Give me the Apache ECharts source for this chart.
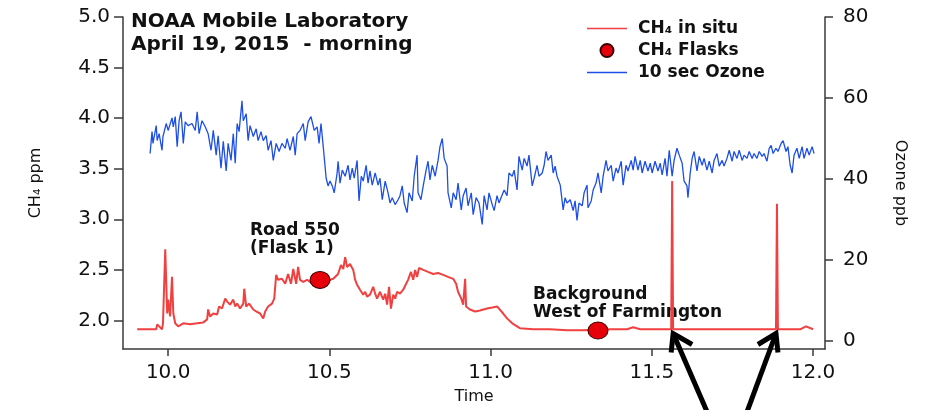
<!DOCTYPE html>
<html><head><meta charset="utf-8">
<script src="https://cdn.jsdelivr.net/npm/echarts@6/dist/echarts.min.js"></script>
<style>html,body{margin:0;padding:0;background:#fff}#c{width:927px;height:410px}</style>
</head><body><div id="c"></div>
<script>
// ---- data ----
const xTicks = [10.0, 10.5, 11.0, 11.5, 12.0];
const ch4Ticks = [2.0, 2.5, 3.0, 3.5, 4.0, 4.5, 5.0];
const ozoneTicks = [0, 20, 40, 60, 80];
const titleLines = ['NOAA Mobile Laboratory', 'April 19, 2015  - morning'];
const seriesNames = ['CH\u2084 in situ', 'CH\u2084 Flasks', '10 sec Ozone'];
const flaskLabels = ['Road 550\n(Flask 1)', 'Background\nWest of Farmington'];
const spikeTimes = [11.563, 11.888];

const ch4InSitu = [
[9.904,1.912],[9.944,1.912],[9.963,1.912],[9.966,1.961],[9.981,1.912],[9.984,1.971],[9.991,2.704],[9.997,2.068],
[10.000,2.205],[10.006,2.039],[10.012,2.430],[10.016,2.068],[10.022,1.971],[10.031,1.941],[10.047,1.971],[10.068,1.961],
[10.090,1.971],[10.109,1.980],[10.121,2.010],[10.124,2.108],[10.130,2.039],[10.140,2.068],[10.152,2.059],[10.158,2.137],
[10.167,2.117],[10.177,2.215],[10.183,2.186],[10.192,2.156],[10.202,2.205],[10.208,2.137],[10.214,2.166],[10.223,2.117],
[10.233,2.166],[10.236,2.313],[10.242,2.137],[10.251,2.166],[10.264,2.108],[10.273,2.088],[10.285,2.068],[10.295,2.020],
[10.301,2.088],[10.310,2.137],[10.322,2.166],[10.329,2.215],[10.335,2.450],[10.341,2.401],[10.353,2.411],[10.363,2.362],
[10.372,2.459],[10.381,2.362],[10.388,2.508],[10.397,2.362],[10.403,2.528],[10.409,2.401],[10.419,2.381],[10.431,2.401],
[10.447,2.362],[10.471,2.352],[10.493,2.362],[10.502,2.401],[10.512,2.411],[10.527,2.459],[10.536,2.547],[10.543,2.508],
[10.549,2.626],[10.555,2.528],[10.564,2.557],[10.574,2.499],[10.580,2.401],[10.586,2.352],[10.595,2.303],[10.605,2.254],
[10.611,2.283],[10.617,2.235],[10.626,2.254],[10.636,2.332],[10.642,2.264],[10.648,2.215],[10.657,2.283],[10.667,2.205],
[10.673,2.264],[10.679,2.156],[10.685,2.332],[10.691,2.117],[10.698,2.254],[10.704,2.215],[10.710,2.283],[10.719,2.264],
[10.729,2.303],[10.738,2.362],[10.744,2.401],[10.753,2.479],[10.760,2.401],[10.766,2.499],[10.772,2.430],[10.778,2.518],
[10.791,2.499],[10.806,2.479],[10.822,2.459],[10.837,2.469],[10.853,2.450],[10.868,2.430],[10.884,2.411],[10.893,2.362],
[10.899,2.283],[10.909,2.215],[10.915,2.156],[10.921,2.411],[10.924,2.137],[10.936,2.108],[10.952,2.088],[10.967,2.098],
[10.989,2.117],[11.005,2.127],[11.020,2.137],[11.026,2.117],[11.039,2.068],[11.051,2.020],[11.067,1.971],[11.082,1.941],
[11.091,1.922],[11.132,1.912],[11.184,1.912],[11.237,1.902],[11.287,1.902],[11.371,1.912],[11.423,1.912],[11.442,1.932],
[11.464,1.912],[11.504,1.912],[11.547,1.912],[11.560,1.912],[11.563,3.378],[11.566,1.912],[11.650,1.912],[11.774,1.912],
[11.885,1.912],[11.888,3.153],[11.891,1.912],[11.929,1.912],[11.960,1.912],[11.978,1.941],[12.000,1.912]
];

const ch4Flasks = [[10.471, 2.40], [11.333, 1.90]];

const ozone = [
[9.944,46.3],[9.950,51.7],[9.953,48.8],[9.963,53.2],[9.966,49.5],[9.972,51.2],[9.981,47.1],[9.984,50.5],[9.994,53.7],
[10.000,52.0],[10.012,55.1],[10.016,52.9],[10.022,55.4],[10.028,48.0],[10.034,54.4],[10.040,56.6],[10.047,48.8],[10.053,54.1],
[10.062,53.2],[10.074,53.7],[10.084,52.0],[10.090,56.6],[10.096,51.2],[10.105,54.4],[10.115,52.9],[10.124,51.2],[10.133,47.1],
[10.140,52.0],[10.149,45.9],[10.155,50.7],[10.164,42.7],[10.171,49.3],[10.180,42.0],[10.186,48.8],[10.195,44.6],[10.202,51.2],
[10.208,43.9],[10.214,53.7],[10.220,51.7],[10.229,59.3],[10.233,54.4],[10.242,56.1],[10.248,49.5],[10.254,53.2],[10.264,50.5],
[10.273,52.4],[10.279,49.5],[10.288,51.7],[10.295,49.5],[10.304,50.7],[10.310,47.1],[10.319,49.5],[10.326,44.6],[10.335,48.8],
[10.344,46.8],[10.353,48.8],[10.363,47.6],[10.369,50.0],[10.378,47.1],[10.388,50.5],[10.394,45.9],[10.400,51.2],[10.409,52.0],
[10.419,53.7],[10.425,49.5],[10.434,54.1],[10.443,55.4],[10.453,52.0],[10.462,52.9],[10.468,48.8],[10.474,53.7],[10.481,48.0],
[10.490,40.2],[10.496,38.3],[10.502,39.5],[10.509,38.3],[10.515,36.6],[10.524,41.5],[10.527,44.4],[10.533,39.0],[10.540,42.2],
[10.549,40.7],[10.558,43.4],[10.564,39.8],[10.571,42.7],[10.577,40.2],[10.586,44.6],[10.592,34.6],[10.599,40.7],[10.605,39.5],
[10.614,43.4],[10.620,39.0],[10.626,42.0],[10.633,38.5],[10.642,41.5],[10.651,38.5],[10.657,40.2],[10.664,34.9],[10.673,39.5],
[10.682,36.6],[10.688,34.1],[10.695,35.4],[10.704,33.7],[10.713,34.9],[10.719,35.9],[10.726,38.3],[10.732,34.1],[10.741,31.7],
[10.747,36.6],[10.757,34.6],[10.763,40.7],[10.772,45.9],[10.775,36.6],[10.784,34.9],[10.791,38.3],[10.800,42.2],[10.806,44.4],
[10.812,39.8],[10.819,43.4],[10.828,40.7],[10.837,44.6],[10.843,48.0],[10.850,50.0],[10.856,45.1],[10.865,43.2],[10.868,36.6],
[10.878,32.9],[10.884,36.6],[10.893,34.9],[10.899,39.0],[10.909,32.4],[10.915,35.9],[10.924,37.8],[10.930,33.4],[10.940,36.6],
[10.946,31.2],[10.955,35.4],[10.964,34.1],[10.974,28.8],[10.980,35.9],[10.989,32.4],[10.995,36.6],[11.005,33.7],[11.011,32.2],
[11.020,35.9],[11.026,34.1],[11.036,36.1],[11.042,37.3],[11.051,35.9],[11.057,41.5],[11.067,40.7],[11.073,42.2],[11.082,37.3],
[11.088,45.6],[11.098,42.2],[11.104,45.1],[11.113,43.2],[11.119,45.9],[11.129,38.3],[11.135,40.2],[11.144,43.4],[11.150,40.7],
[11.160,41.5],[11.166,43.4],[11.172,46.8],[11.178,44.6],[11.188,45.9],[11.194,41.5],[11.200,43.2],[11.206,40.7],[11.216,38.5],
[11.225,32.4],[11.231,35.4],[11.237,34.1],[11.247,34.9],[11.256,32.2],[11.262,34.6],[11.268,29.8],[11.274,34.1],[11.284,33.4],
[11.290,36.6],[11.299,38.5],[11.302,32.9],[11.312,34.6],[11.318,37.3],[11.327,39.0],[11.333,41.5],[11.343,36.6],[11.349,40.7],
[11.358,44.6],[11.364,42.0],[11.374,43.4],[11.380,39.5],[11.389,42.7],[11.395,41.5],[11.405,44.4],[11.411,38.5],[11.420,43.4],
[11.426,42.0],[11.436,44.6],[11.442,42.2],[11.448,45.6],[11.457,42.2],[11.464,44.6],[11.470,41.5],[11.479,44.4],[11.488,42.0],
[11.495,43.9],[11.501,41.5],[11.510,44.4],[11.519,42.0],[11.526,43.9],[11.532,41.0],[11.541,45.1],[11.547,40.7],[11.554,47.1],
[11.563,40.7],[11.569,44.6],[11.578,47.6],[11.585,45.9],[11.594,43.9],[11.600,39.5],[11.609,38.3],[11.612,35.4],[11.619,41.5],
[11.625,45.1],[11.631,46.8],[11.640,42.0],[11.647,45.6],[11.656,43.4],[11.662,45.1],[11.671,42.2],[11.678,44.4],[11.687,41.5],
[11.693,44.6],[11.702,46.3],[11.709,43.2],[11.718,44.6],[11.724,43.2],[11.733,45.1],[11.740,47.1],[11.749,44.4],[11.755,46.8],
[11.764,45.1],[11.771,47.1],[11.780,44.6],[11.786,45.9],[11.795,45.1],[11.802,46.8],[11.811,45.1],[11.817,46.3],[11.826,45.1],
[11.833,46.8],[11.842,45.6],[11.848,46.3],[11.857,44.4],[11.864,47.6],[11.870,48.3],[11.876,46.3],[11.885,47.6],[11.891,46.8],
[11.901,48.8],[11.907,49.5],[11.916,46.8],[11.922,48.0],[11.929,43.4],[11.935,41.5],[11.941,45.9],[11.950,47.6],[11.957,45.1],
[11.966,48.0],[11.972,45.1],[11.981,47.6],[11.988,45.9],[11.997,48.0],[12.003,46.3]
];

// ---- chart ----
const FONT = 'DejaVu Sans';
const AX = '#3a3a3a';
const RED = '#f04040';
const BLUE = '#1d4ee6';
const chart = echarts.init(document.getElementById('c'), null, {renderer: 'canvas'});

function axisCommon() {
  return {
    axisLine: {show: true, onZero: false, lineStyle: {color: AX, width: 1.5}},
    splitLine: {show: false},
    nameTextStyle: {fontFamily: FONT, fontSize: 16, color: '#111'}
  };
}

const lineIcon = 'path://M0,0L40,0L40,1.6L0,1.6Z';

chart.setOption({
  animation: false,
  backgroundColor: '#fff',
  title: {
    text: titleLines.join('\n'),
    left: 131, top: 10, padding: 0,
    textStyle: {fontFamily: FONT, fontSize: 20, fontWeight: 'bold', color: '#111', lineHeight: 23}
  },
  legend: {
    data: [
      {name: seriesNames[0], icon: lineIcon},
      {name: seriesNames[1], icon: 'circle'},
      {name: seriesNames[2], icon: lineIcon}
    ],
    orient: 'vertical',
    left: 587, top: 20, padding: 0,
    itemWidth: 40, itemHeight: 13, itemGap: 5,
    textStyle: {fontFamily: FONT, fontSize: 17, fontWeight: 'bold', color: '#111', padding: [0, 0, 0, 6]}
  },
  grid: {left: 123, right: 102, top: 17, bottom: 57, containLabel: false},
  xAxis: Object.assign(axisCommon(), {
    type: 'value', min: 9.86, max: 12.037,
    name: 'Time', nameLocation: 'middle', nameGap: 40,
    axisTick: {show: true, customValues: xTicks, length: 7, lineStyle: {color: AX, width: 1.5}},
    axisLabel: {customValues: xTicks, formatter: v => v.toFixed(1), fontFamily: FONT, fontSize: 20, color: '#111', margin: 14}
  }),
  yAxis: [
    Object.assign(axisCommon(), {
      type: 'value', position: 'left', min: 1.717, max: 5.0,
      name: 'CH\u2084 ppm', nameLocation: 'middle', nameRotate: 90, nameGap: 79,
      axisTick: {show: true, customValues: ch4Ticks, length: 9, lineStyle: {color: AX, width: 1.5}},
      axisLabel: {customValues: ch4Ticks, formatter: v => v.toFixed(1), fontFamily: FONT, fontSize: 20, color: '#111', margin: 13}
    }),
    Object.assign(axisCommon(), {
      type: 'value', position: 'right', min: -1.95, max: 80,
      name: 'Ozone ppb', nameLocation: 'middle', nameRotate: -90, nameGap: 67,
      axisTick: {show: true, customValues: ozoneTicks, length: 8, lineStyle: {color: AX, width: 1.5}},
      axisLabel: {customValues: ozoneTicks, formatter: v => String(v), fontFamily: FONT, fontSize: 20, color: '#111', margin: 18}
    })
  ],
  series: [
    {
      name: seriesNames[2], type: 'line', yAxisIndex: 1, data: ozone,
      symbol: 'none', showSymbol: false, z: 2,
      lineStyle: {color: BLUE, width: 1.3}, itemStyle: {color: BLUE}
    },
    {
      name: seriesNames[0], type: 'line', yAxisIndex: 0, data: ch4InSitu,
      symbol: 'none', showSymbol: false, z: 3,
      lineStyle: {color: RED, width: 2}, itemStyle: {color: RED}
    },
    {
      name: seriesNames[1], type: 'scatter', yAxisIndex: 0, data: ch4Flasks,
      symbol: 'circle', symbolSize: [20, 17], z: 5,
      itemStyle: {color: '#e6000a', borderColor: '#3a0000', borderWidth: 1, opacity: 1}
    }
  ]
});

// annotations & arrows (positioned from the data through the chart's own scales)
const f1 = chart.convertToPixel({xAxisIndex: 0, yAxisIndex: 0}, ch4Flasks[0]);
const f2 = chart.convertToPixel({xAxisIndex: 0, yAxisIndex: 0}, ch4Flasks[1]);
const tipA = chart.convertToPixel({xAxisIndex: 0, yAxisIndex: 0}, [spikeTimes[0], 1.89]);
const tipB = chart.convertToPixel({xAxisIndex: 0, yAxisIndex: 0}, [spikeTimes[1], 1.89]);

const txtStyle = {fontFamily: FONT, fontSize: 17, fontWeight: 'bold', fill: '#111', lineHeight: 18};
const arrowStyle = {stroke: '#000', lineWidth: 5, fill: null, lineCap: 'butt', lineJoin: 'miter'};
chart.setOption({
  graphic: [
    {type: 'text', left: f1[0] - 70, top: f1[1] - 58, style: Object.assign({text: flaskLabels[0]}, txtStyle)},
    {type: 'text', left: f2[0] - 65, top: f2[1] - 45, style: Object.assign({text: flaskLabels[1]}, txtStyle)},
    {type: 'polyline', shape: {points: [[tipA[0] + 35, 412], [tipA[0] + 1, tipA[1] + 2]]}, style: arrowStyle, z: 50},
    {type: 'polyline', shape: {points: [[tipA[0] + 20, tipA[1] + 13], [tipA[0] + 1, tipA[1] + 2], [tipA[0] - 1, tipA[1] + 21]]}, style: arrowStyle, z: 50},
    {type: 'polyline', shape: {points: [[tipB[0] - 30, 412], [tipB[0] - 1, tipB[1] + 2]]}, style: arrowStyle, z: 50},
    {type: 'polyline', shape: {points: [[tipB[0] - 19, tipB[1] + 13], [tipB[0] - 1, tipB[1] + 2], [tipB[0] + 1, tipB[1] + 21]]}, style: arrowStyle, z: 50}
  ]
});
</script>
</body></html>
